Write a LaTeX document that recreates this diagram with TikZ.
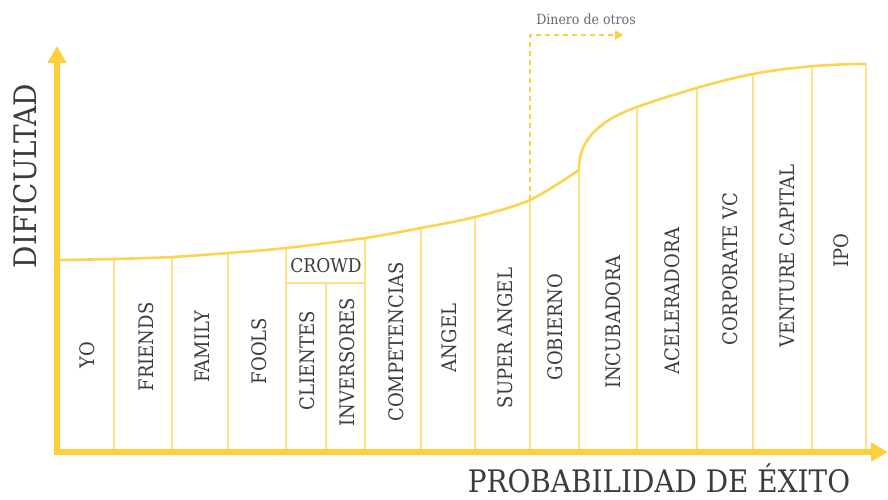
\documentclass[tikz,border=0pt]{standalone}
\usepackage{fontspec}
\setmainfont{DejaVu Serif Condensed}
\usetikzlibrary{arrows.meta}
\definecolor{ejes}{HTML}{FDD03B}
\definecolor{curva}{HTML}{FDD44F}
\definecolor{linea}{HTML}{FFE189}
\definecolor{texto}{HTML}{3C3C3C}
\definecolor{gris}{HTML}{6A6A6A}
\begin{document}
\begin{tikzpicture}[x=1pt,y=-1pt,
    sep/.style={linea,line width=1.6pt},
    lbl/.style={rotate=90,text=texto,inner sep=0pt,font=\fontsize{20}{20}\selectfont},
    eje/.style={ejes,line width=5.5pt,line join=miter},
    titulo/.style={text=texto,inner sep=0pt,font=\fontsize{31}{31}\selectfont}]
  \useasboundingbox (0,0) rectangle (888,499);
  \coordinate (o) at (57,452);
  \coordinate (ytip) at (57,46);
  \coordinate (xtip) at (888,452);
  % separadores
  \foreach \x/\y [count=\i] in {114/259,172/257,228/253,286/248,365/238,421/228,475/217,530/200,579/170,637/107,697/88,753/74,812/66,866/64} {
      \coordinate (t\i) at (\x,\y);
      \draw[sep] (t\i) -- (t\i |- o);
  }
  \coordinate (c1) at (286,283);
  \coordinate (c2) at (365,283);
  \coordinate (c3) at (326,283);
  \draw[sep] (c1) -- (c2);
  \draw[sep] (c3) -- (c3 |- o);
  % curva
  \draw[curva,line width=2.6pt] plot[smooth] coordinates {(57,260) (114,259) (172,257) (228,253) (286,248) (365,238) (421,228) (475,217) (530,200) (579,170)};
  \draw[curva,line width=2.6pt] (t9) .. controls (578,138) and (603,119) .. (t10)
      .. controls (665,97) and (720,80) .. (t12) .. controls (790,67) and (830,64) .. (t14);
  % ejes
  \draw[eje,{Triangle[width=18pt,length=17pt]}-{Triangle[width=18pt,length=17pt]}] (ytip) -- (o) -- (xtip);
  % dinero de otros
  \coordinate (d1) at (530,35);
  \coordinate (d2) at (623,35);
  \draw[ejes,line width=1.8pt,dash pattern=on 5pt off 4pt,-{Triangle[width=9pt,length=8pt]}] (t8) -- (d1) -- (d2);
  \node[text=gris,font=\fontsize{14}{14}\selectfont] (dinero) at (586,19) {Dinero de otros};
  % etiquetas
  \foreach \x/\y/\n/\t in {87/355/yo/YO,146/347/friends/FRIENDS,202/347/family/FAMILY,259/351/fools/FOOLS,
      307/361/clientes/CLIENTES,347/362/inversores/INVERSORES,396/342/competencias/COMPETENCIAS,
      449/338/angel/ANGEL,505/338/superangel/SUPER ANGEL,555/327/gobierno/GOBIERNO,
      613/322/incubadora/INCUBADORA,672/301/aceleradora/ACELERADORA,730/269/corporate/CORPORATE VC,
      787/256/venture/VENTURE CAPITAL,841/251/ipo/IPO} {
      \node[lbl] (\n) at (\x,\y) {\t};
  }
  \node[text=texto,inner sep=0pt,font=\fontsize{19}{19}\selectfont] (crowd) at (326,266) {CROWD};
  \node[titulo,rotate=90] (dificultad) at (25,176) {DIFICULTAD};
  \node[titulo,anchor=base,text depth=0pt] (exito) at (659,492) {PROBABILIDAD DE ÉXITO};
\end{tikzpicture}
\end{document}
